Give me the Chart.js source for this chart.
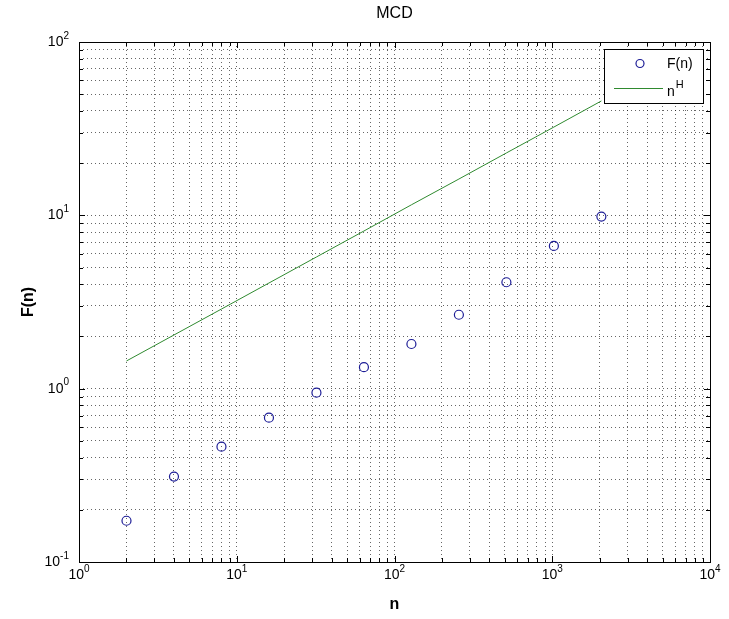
<!DOCTYPE html>
<html>
<head>
<meta charset="utf-8">
<script src="https://cdn.jsdelivr.net/npm/chart.js@4.4.0/dist/chart.umd.min.js"></script>
<style>
html, body { margin: 0; padding: 0; background: #fff; }
</style>
</head>
<body>
<canvas id="myChart" width="729" height="619"></canvas>
<script>
// data
var nValues = [2, 4, 8, 16, 32, 64, 128, 256, 512, 1024, 2048];
var fValues = [0.173, 0.311, 0.463, 0.680, 0.948, 1.33, 1.81, 2.67, 4.11, 6.66, 9.83];
var fitValues = [1.445, 2.04, 2.88, 4.07, 5.75, 8.12, 11.5, 16.2, 22.9, 32.3, 45.7];

var xDecades = [1, 10, 100, 1000, 10000];
var xExponents = ['0', '1', '2', '3', '4'];
var yDecades = [0.1, 1, 10, 100];
var yExponents = ['-1', '0', '1', '2'];

var titleText = 'MCD';
var xLabel = 'n';
var yLabel = 'F(n)';
var legendNames = ['F(n)', 'n'];
var legendSup = ['', 'H'];

var FONT = "'Liberation Sans', Arial, sans-serif";
var BLUE = '#1c1c96';
var GREEN = '#2f8a2f';

function logTicks(decades) {
    var ticks = [];
    for (var i = 0; i < decades.length - 1; i++) {
        for (var m = 1; m < 10; m++) ticks.push(m * decades[i]);
    }
    ticks.push(decades[decades.length - 1]);
    return ticks;
}

var xTicks = logTicks(xDecades);
var yTicks = logTicks(yDecades);

function isMajor(v, decades) {
    return decades.some(function(d) { return Math.abs(v - d) < d * 1e-6; });
}

function drawPow(ctx, base, exp, x, y, align) {
    ctx.font = '14px ' + FONT;
    var wb = ctx.measureText(base).width;
    ctx.font = '10px ' + FONT;
    var we = ctx.measureText(exp).width;
    var w = wb + we;
    var start = align === 'right' ? x - w : x - w / 2;
    ctx.textAlign = 'left';
    ctx.textBaseline = 'middle';
    ctx.font = '14px ' + FONT;
    ctx.fillText(base, start, y);
    ctx.font = '10px ' + FONT;
    ctx.fillText(exp, start + wb, y - 6);
}

var decorPlugin = {
    id: 'decor',
    afterDatasetsDraw: function(chart) {
        var ctx = chart.ctx;
        var a = chart.chartArea;
        var xs = chart.scales.x, ys = chart.scales.y;
        ctx.save();
        ctx.strokeStyle = '#000';
        ctx.lineWidth = 1;

        // tick marks inside, all four sides
        ctx.beginPath();
        xTicks.forEach(function(v) {
            var px = Math.round(xs.getPixelForValue(v)) + 0.5;
            var len = isMajor(v, xDecades) ? 6 : 4;
            ctx.moveTo(px, a.bottom); ctx.lineTo(px, a.bottom - len);
            ctx.moveTo(px, a.top); ctx.lineTo(px, a.top + len);
        });
        yTicks.forEach(function(v) {
            var py = Math.round(ys.getPixelForValue(v)) + 0.5;
            var len = isMajor(v, yDecades) ? 6 : 4;
            ctx.moveTo(a.left, py); ctx.lineTo(a.left + len, py);
            ctx.moveTo(a.right, py); ctx.lineTo(a.right - len, py);
        });
        ctx.stroke();

        // frame
        ctx.strokeRect(Math.round(a.left) + 0.5, Math.round(a.top) + 0.5,
            Math.round(a.right - a.left), Math.round(a.bottom - a.top));

        // tick labels
        ctx.fillStyle = '#000';
        xDecades.forEach(function(d, i) {
            drawPow(ctx, '10', xExponents[i], xs.getPixelForValue(d), a.bottom + 13, 'center');
        });
        yDecades.forEach(function(d, i) {
            drawPow(ctx, '10', yExponents[i], a.left - 10, ys.getPixelForValue(d), 'right');
        });

        // title and axis labels
        ctx.textAlign = 'center';
        ctx.textBaseline = 'middle';
        ctx.font = '16px ' + FONT;
        ctx.fillText(titleText, (a.left + a.right) / 2, 14);
        ctx.font = 'bold 16px ' + FONT;
        ctx.fillText(xLabel, (a.left + a.right) / 2, 605);
        ctx.save();
        ctx.translate(29, (a.top + a.bottom) / 2);
        ctx.rotate(-Math.PI / 2);
        ctx.fillText(yLabel, 0, 0);
        ctx.restore();

        // legend box
        var lx = 604, ly = 49, lw = 99, lh = 54;
        ctx.fillStyle = '#fff';
        ctx.fillRect(lx, ly, lw, lh);
        ctx.strokeRect(lx + 0.5, ly + 0.5, lw, lh);

        ctx.strokeStyle = BLUE;
        ctx.lineWidth = 1.2;
        ctx.beginPath();
        ctx.arc(640, 63.5, 4, 0, Math.PI * 2);
        ctx.stroke();

        ctx.strokeStyle = GREEN;
        ctx.lineWidth = 1;
        ctx.beginPath();
        ctx.moveTo(614, 88.5);
        ctx.lineTo(663, 88.5);
        ctx.stroke();

        ctx.fillStyle = '#000';
        ctx.textAlign = 'left';
        ctx.textBaseline = 'middle';
        ctx.font = '14px ' + FONT;
        ctx.fillText(legendNames[0], 667, 64);
        ctx.fillText(legendNames[1], 667, 92);
        var wn = ctx.measureText(legendNames[1]).width;
        ctx.font = '11px ' + FONT;
        ctx.fillText(legendSup[1], 667 + wn + 1, 85);

        ctx.restore();
    }
};

var ctx = document.getElementById('myChart');
var myChart = new Chart(ctx, {
    type: 'scatter',
    data: {
        datasets: [{
            label: legendNames[0],
            data: nValues.map(function(n, i) { return {x: n, y: fValues[i]}; }),
            showLine: false,
            pointStyle: 'circle',
            pointRadius: 4.5,
            pointHoverRadius: 4.5,
            backgroundColor: 'rgba(0,0,0,0)',
            borderColor: BLUE,
            borderWidth: 1.2
        }, {
            label: 'n^H',
            data: nValues.map(function(n, i) { return {x: n, y: fitValues[i]}; }),
            showLine: true,
            pointRadius: 0,
            borderColor: GREEN,
            borderWidth: 1,
            fill: false
        }]
    },
    options: {
        responsive: false,
        animation: false,
        devicePixelRatio: 1,
        layout: { padding: { left: 79, top: 42, right: 19, bottom: 57 } },
        plugins: {
            legend: { display: false },
            title: { display: false },
            tooltip: { enabled: false }
        },
        scales: {
            x: {
                type: 'logarithmic',
                min: 1,
                max: 10000,
                afterBuildTicks: function(scale) {
                    scale.ticks = xTicks.map(function(v) { return {value: v}; });
                },
                ticks: { display: false },
                grid: { drawTicks: false, color: 'rgba(0,0,0,0.6)', lineWidth: 1 },
                border: { display: false, dash: [1, 3] }
            },
            y: {
                type: 'logarithmic',
                min: 0.1,
                max: 100,
                afterBuildTicks: function(scale) {
                    scale.ticks = yTicks.map(function(v) { return {value: v}; });
                },
                ticks: { display: false },
                grid: { drawTicks: false, color: 'rgba(0,0,0,0.6)', lineWidth: 1 },
                border: { display: false, dash: [1, 3] }
            }
        }
    },
    plugins: [decorPlugin]
});
</script>
</body>
</html>
